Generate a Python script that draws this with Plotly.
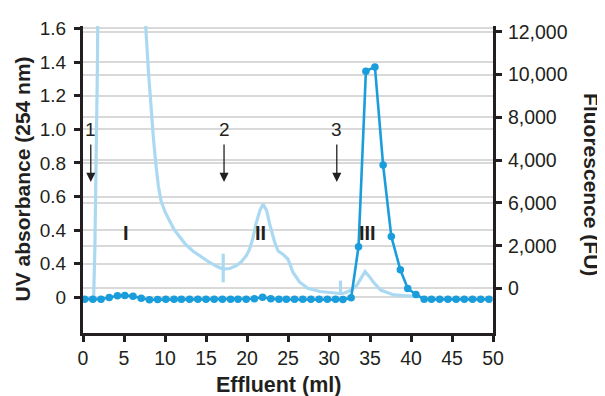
import plotly.graph_objects as go

# ---------------- data ----------------
# UV absorbance (254 nm), left axis
uv_x = [0.3, 1.3, 1.45, 1.75, 1.96, 4.5, 7.45, 7.68, 8.0, 8.29, 8.6, 8.9, 9.2, 9.52, 10.0, 10.54,
        11.1, 11.76, 12.5, 13.4, 14.4, 15.44, 16.3, 17.07, 17.9, 18.7, 19.3, 19.9, 20.3, 20.7,
        21.1, 21.57, 21.95, 22.4, 22.75, 23.1, 23.4, 23.8, 24.4, 25.0, 25.6, 26.4, 27.4, 28.9,
        30.9, 31.6, 32.35, 32.9, 33.4, 34.0, 34.4, 34.9, 35.4, 36.3, 37.9, 40.3, 41.0]
uv_y = [-0.005, 0.0, 0.3, 1.35, 2.5, 3.5, 1.9, 1.586, 1.33, 1.133, 0.94, 0.786, 0.66, 0.574, 0.51, 0.458,
        0.405, 0.362, 0.316, 0.276, 0.24, 0.208, 0.185, 0.169, 0.172, 0.189, 0.212, 0.247, 0.285, 0.35,
        0.439, 0.516, 0.555, 0.516, 0.439, 0.37, 0.324, 0.276, 0.256, 0.227, 0.15, 0.092, 0.054, 0.035,
        0.025, 0.022, 0.035, 0.05, 0.073, 0.12, 0.154, 0.125, 0.092, 0.044, 0.015, 0.006, 0.004]

# Fraction markers on the UV trace (ml, top, bottom)
mark_x = [17.1, 31.4]
mark_top = [0.26, 0.10]
mark_bottom = [0.09, 0.02]

# Fluorescence (FU), right axis
fl_x = [0.2, 1.2, 2.2, 3.2, 4.2, 5.1, 6.1, 7.1, 8.1, 9.1, 10.1, 11.1, 12.0, 13.0, 14.0, 15.0,
        16.0, 17.0, 18.0, 18.9, 19.9, 20.9, 21.9, 22.9, 23.9, 24.8, 25.8, 26.8, 27.8, 28.8,
        29.8, 30.8, 31.7, 32.7, 33.6, 34.5, 35.6, 36.6, 37.6, 38.7, 39.6, 40.6, 41.6, 42.5,
        43.5, 44.5, 45.5, 46.5, 47.5, 48.5, 49.5]
fl_y = [-500, -500, -500, -420, -340, -330, -360, -460, -530, -520, -510, -510, -510, -510, -510, -510,
        -510, -510, -510, -510, -500, -480, -410, -480, -510, -510, -510, -510, -510, -510,
        -510, -510, -520, -440, 1950, 10160, 10360, 5770, 2430, 870, 0, -280, -500, -510,
        -510, -510, -510, -510, -510, -510, -510]

x_ticks = [0, 5, 10, 15, 20, 25, 30, 35, 40, 45, 50]
left_tickvals = [0, 0.2, 0.4, 0.6, 0.8, 1.0, 1.2, 1.4, 1.6]
left_ticktext = ["0", "0.4", "0.4", "0.6", "0.8", "1.0", "1.2", "1.4", "1.6"]
right_tickvals = [0, 2000, 4000, 6000, 8000, 10000, 12000]
right_ticktext = ["0", "2,000", "6,000", "4,000", "8,000", "10,000", "12,000"]

arrow_x = [0.95, 17.2, 30.95]
arrow_labels = ["1", "2", "3"]
peak_x = [5.3, 21.7, 34.7]
peak_labels = ["I", "II", "III"]

# ---------------- style ----------------
INK = "#231f20"
UV_COLOR = "#abd9f2"
FL_COLOR = "#1a9ddb"
GRID = "#d9d9d9"
FONT = "Liberation Sans, Arial, sans-serif"

fig = go.Figure()

fig.add_trace(go.Scatter(x=uv_x, y=uv_y, mode="lines",
                         line=dict(color=UV_COLOR, width=3.2), yaxis="y", hoverinfo="skip"))
for mx, mt, mb in zip(mark_x, mark_top, mark_bottom):
    fig.add_trace(go.Scatter(x=[mx, mx], y=[mt, mb], mode="lines",
                             line=dict(color=UV_COLOR, width=3.2), yaxis="y", hoverinfo="skip"))

fig.add_trace(go.Scatter(x=fl_x, y=fl_y, mode="lines+markers",
                         line=dict(color=FL_COLOR, width=2.6),
                         marker=dict(color=FL_COLOR, size=7.5),
                         yaxis="y2", cliponaxis=False))

axis_common = dict(showline=True, linewidth=3, linecolor=INK, ticks="outside",
                   ticklen=6, tickwidth=3, tickcolor=INK, zeroline=False)

# page body adds an 8px margin, so the figure is 8px smaller than the window
fig.update_layout(
    width=597, height=388,
    margin=dict(l=75, r=112, t=10, b=63),
    paper_bgcolor="white", plot_bgcolor="white",
    showlegend=False,
    font=dict(family=FONT, color=INK),
    xaxis=dict(range=[0, 50], tickvals=x_ticks, showgrid=False,
               tickfont=dict(family=FONT, size=19.5, color=INK), **axis_common),
    yaxis=dict(range=[-0.2116, 1.6145], tickvals=left_tickvals, ticktext=left_ticktext,
               showgrid=True, gridcolor=GRID, gridwidth=1.5, ticklabelstandoff=4,
               tickfont=dict(family=FONT, size=19, color=INK), **axis_common),
    yaxis2=dict(range=[-2083, 12273], tickvals=right_tickvals, ticktext=right_ticktext,
                overlaying="y", side="right", anchor="x", ticklabelstandoff=2,
                showgrid=True, gridcolor=GRID, gridwidth=1.5,
                tickfont=dict(family=FONT, size=19.5, color=INK), **axis_common),
)

# axis titles
fig.add_annotation(text="<b>Effluent (ml)</b>", xref="x", yref="paper", x=23.9, y=0,
                   yshift=-52, showarrow=False, yanchor="middle",
                   font=dict(family=FONT, size=21.5, color=INK))
fig.add_annotation(text="<b>UV absorbance (254 nm)</b>", xref="paper", yref="paper", x=0, y=0.5,
                   xshift=-61, showarrow=False, textangle=-90, xanchor="center",
                   font=dict(family=FONT, size=21, color=INK))
fig.add_annotation(text="<b>Fluorescence (FU)</b>", xref="paper", yref="paper", x=1, y=0.485,
                   xshift=99, showarrow=False, textangle=90, xanchor="center",
                   font=dict(family=FONT, size=21, color=INK))

# numbered arrows
for ax_, lab in zip(arrow_x, arrow_labels):
    fig.add_annotation(text=lab, x=ax_, y=1.0, xref="x", yref="y", showarrow=False,
                       font=dict(family=FONT, size=19, color=INK))
    fig.add_annotation(text="", x=ax_, y=0.687, ax=ax_, ay=0.919, xref="x", yref="y",
                       axref="x", ayref="y", showarrow=True, arrowhead=2, arrowsize=1.4,
                       arrowwidth=1.3, arrowcolor=INK)

# peak labels
for px_, lab in zip(peak_x, peak_labels):
    fig.add_annotation(text="<b>" + lab + "</b>", x=px_, y=0.385, xref="x", yref="y",
                       showarrow=False, font=dict(family=FONT, size=20, color=INK))

fig.write_html("out.html")
